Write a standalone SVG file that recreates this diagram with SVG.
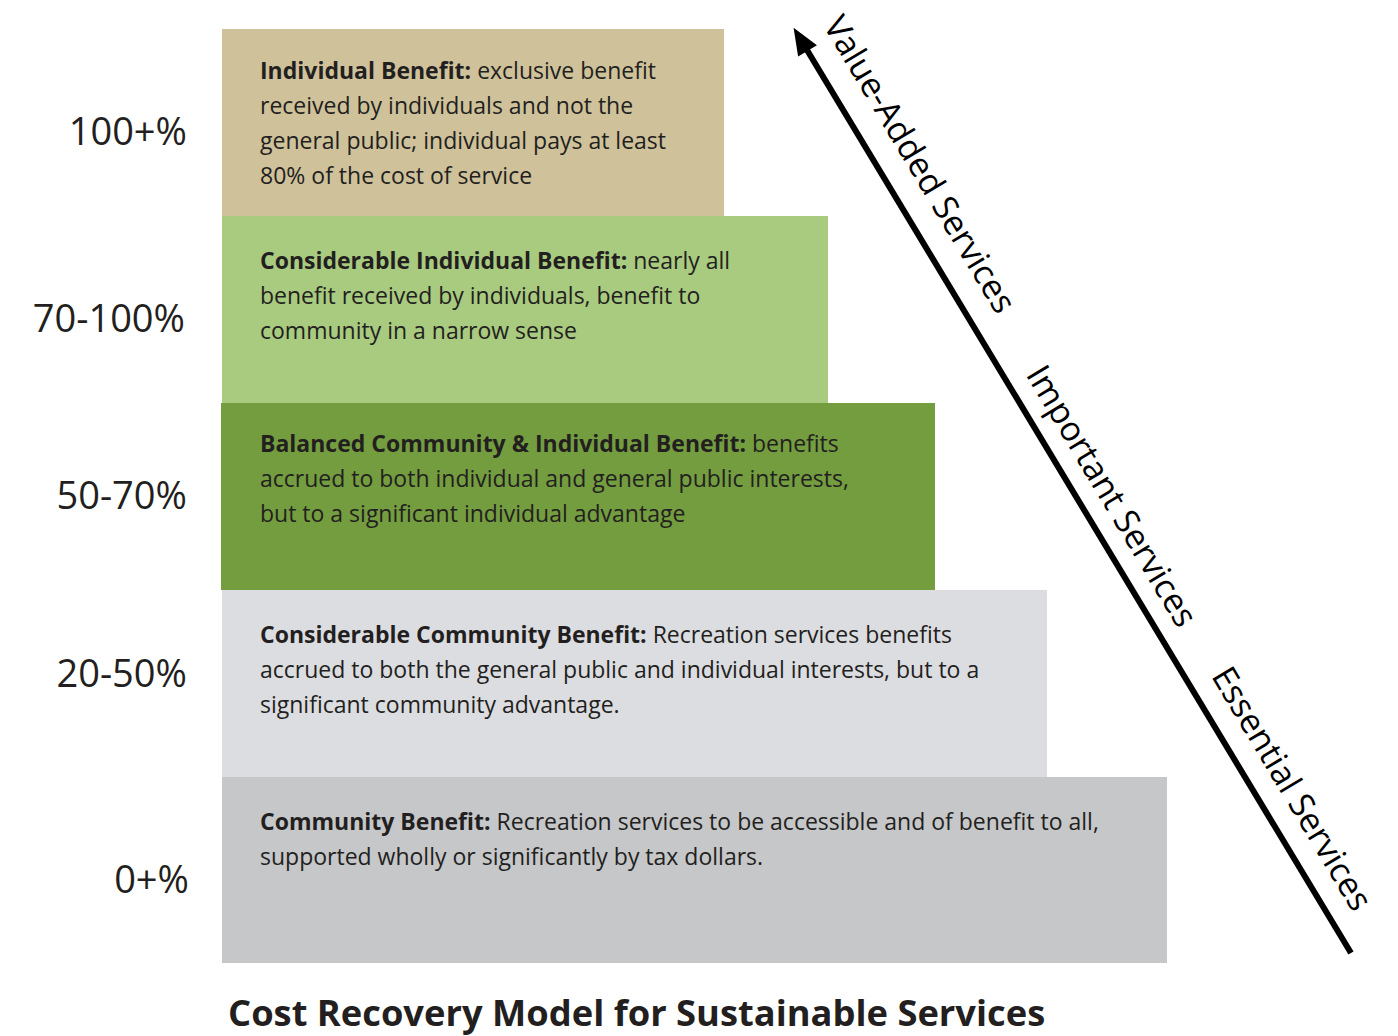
<svg xmlns="http://www.w3.org/2000/svg" width="1398" height="1036" viewBox="0 0 1398 1036">
<defs>
<marker id="ah" markerUnits="userSpaceOnUse" markerWidth="30" markerHeight="26" viewBox="0 -13 28 26" refX="1" refY="0" orient="auto">
<path d="M0,-11 L27,0 L0,11 z" fill="#000"/>
</marker>
</defs>
<style>
text{font-family:"Open Sans","DejaVu Sans",sans-serif;fill:#231f20}
.b{font-size:23px}
.h{font-weight:bold}
.pct{font-size:38px;text-anchor:end}
.rot{font-size:34px;fill:#000}
.title{font-size:36.3px;font-weight:bold}
</style>
<rect width="1398" height="1036" fill="#fff"/>
<g id="tier-individual">
<rect x="222" y="29" width="502" height="187" fill="#cfc29b"/>
<text class="b" x="260" y="79"><tspan class="h">Individual Benefit:</tspan> exclusive benefit</text>
<text class="b" x="260" y="114">received by individuals and not the</text>
<text class="b" x="260" y="149">general public; individual pays at least</text>
<text class="b" x="260" y="184">80% of the cost of service</text>
<text class="pct" x="187" y="145">100+%</text>
</g>
<g id="tier-considerable-individual">
<rect x="222" y="216" width="606" height="187" fill="#a9cb7f"/>
<text class="b" x="260" y="269"><tspan class="h">Considerable Individual Benefit:</tspan> nearly all</text>
<text class="b" x="260" y="304">benefit received by individuals, benefit to</text>
<text class="b" x="260" y="339">community in a narrow sense</text>
<text class="pct" x="185" y="332">70-100%</text>
</g>
<g id="tier-balanced">
<rect x="221" y="403" width="714" height="187" fill="#739d3f"/>
<text class="b" x="260" y="452"><tspan class="h">Balanced Community &amp; Individual Benefit:</tspan> benefits</text>
<text class="b" x="260" y="487">accrued to both individual and general public interests,</text>
<text class="b" x="260" y="522">but to a significant individual advantage</text>
<text class="pct" x="187" y="509">50-70%</text>
</g>
<g id="tier-considerable-community">
<rect x="222" y="590" width="825" height="187" fill="#dcdde0"/>
<text class="b" x="260" y="643"><tspan class="h">Considerable Community Benefit:</tspan> Recreation services benefits</text>
<text class="b" x="260" y="678">accrued to both the general public and individual interests, but to a</text>
<text class="b" x="260" y="713">significant community advantage.</text>
<text class="pct" x="187" y="687">20-50%</text>
</g>
<g id="tier-community">
<rect x="222" y="777" width="945" height="186" fill="#c6c7c9"/>
<text class="b" x="260" y="830"><tspan class="h">Community Benefit:</tspan> Recreation services to be accessible and of benefit to all,</text>
<text class="b" x="260" y="865">supported wholly or significantly by tax dollars.</text>
<text class="pct" x="189" y="893">0+%</text>
</g>
<g id="connectors">
<line x1="1351" y1="953" x2="807" y2="50" stroke="#000" stroke-width="6" marker-end="url(#ah)"/>
<g transform="translate(794,28) rotate(59.04)">
<text class="rot" x="12" y="-26">Value-Added Services</text>
<text class="rot" x="416" y="-20">Important Services</text>
<text class="rot" x="770" y="-24">Essential Services</text>
</g>
</g>
<text class="title" x="228" y="1026">Cost Recovery Model for Sustainable Services</text>
</svg>
